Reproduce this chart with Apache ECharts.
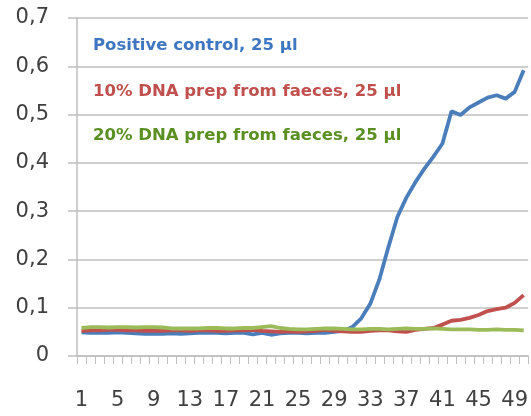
<!DOCTYPE html>
<html>
<head>
<meta charset="utf-8">
<style>html,body{margin:0;padding:0;background:#fff}#c{width:531px;height:416px}</style>
<script src="https://cdn.jsdelivr.net/npm/echarts@6/dist/echarts.min.js"></script>
</head>
<body>
<div id="c"></div>
<script>
var categories = ['1','2','3','4','5','6','7','8','9','10','11','12','13','14','15','16','17','18','19','20','21','22','23','24','25','26','27','28','29','30','31','32','33','34','35','36','37','38','39','40','41','42','43','44','45','46','47','48','49','50'];
var seriesNames = ['Positive control, 25 µl','10% DNA prep from faeces, 25 µl','20% DNA prep from faeces, 25 µl'];
var positiveControl = [0.049,0.048,0.048,0.048,0.049,0.048,0.047,0.046,0.046,0.046,0.047,0.046,0.047,0.048,0.048,0.048,0.047,0.048,0.048,0.045,0.048,0.044,0.047,0.048,0.048,0.047,0.048,0.048,0.050,0.052,0.060,0.078,0.108,0.158,0.225,0.288,0.328,0.360,0.388,0.413,0.440,0.507,0.499,0.515,0.525,0.535,0.540,0.533,0.547,0.592];
var dna10 = [0.052,0.053,0.053,0.054,0.054,0.053,0.053,0.052,0.052,0.052,0.053,0.053,0.052,0.053,0.053,0.052,0.052,0.053,0.053,0.054,0.052,0.051,0.050,0.051,0.050,0.051,0.052,0.054,0.052,0.051,0.050,0.050,0.052,0.053,0.053,0.051,0.050,0.054,0.056,0.058,0.065,0.073,0.075,0.079,0.085,0.093,0.097,0.100,0.110,0.126];
var dna20 = [0.058,0.060,0.060,0.059,0.060,0.060,0.059,0.060,0.060,0.059,0.057,0.057,0.057,0.057,0.058,0.058,0.057,0.057,0.058,0.058,0.060,0.062,0.058,0.056,0.055,0.055,0.056,0.057,0.057,0.056,0.055,0.055,0.056,0.056,0.055,0.056,0.057,0.056,0.056,0.057,0.056,0.055,0.055,0.055,0.054,0.054,0.055,0.054,0.054,0.053];
var lineColors = ['#4a7ebb','#c0504d','#9bbb59'];
var textColors = ['#3f76c2','#c0504d','#5a8f22'];

var chart = echarts.init(document.getElementById('c'));
var font = 'DejaVu Sans';
chart.setOption({
  animation: false,
  grid: {left: 77, right: 1, top: 18, bottom: 60, containLabel: false},
  xAxis: {
    type: 'category', data: categories, boundaryGap: true,
    axisLine: {lineStyle: {color: '#bfbfbf', width: 1.5}},
    axisTick: {show: true, interval: 0, length: 8, lineStyle: {color: '#bfbfbf', width: 1}},
    axisLabel: {interval: 3, margin: 34, color: '#404040', fontSize: 21, fontFamily: font},
    splitLine: {show: false}
  },
  yAxis: {
    type: 'value', min: 0, max: 0.7, interval: 0.1,
    axisLine: {show: true, lineStyle: {color: '#bfbfbf', width: 1.5}},
    axisTick: {show: true, length: 9, lineStyle: {color: '#bfbfbf', width: 1.5}},
    axisLabel: {margin: 28, color: '#404040', fontSize: 21, fontFamily: font,
      formatter: function (v) { return String(Math.round(v * 10) / 10).replace('.', ','); }},
    splitLine: {show: true, lineStyle: {color: '#bfbfbf', width: 1.5}}
  },
  series: [positiveControl, dna10, dna20].map(function (d, i) {
    return {name: seriesNames[i], type: 'line', data: d, symbol: 'none', smooth: false,
      lineStyle: {color: lineColors[i], width: 3.8}, itemStyle: {color: lineColors[i]}};
  }),
  graphic: seriesNames.map(function (n, i) {
    return {type: 'text', left: 93, top: [37, 83, 127][i],
      style: {text: n, fill: textColors[i], font: 'bold 16.5px "DejaVu Sans"'}};
  })
});
</script>
</body>
</html>
